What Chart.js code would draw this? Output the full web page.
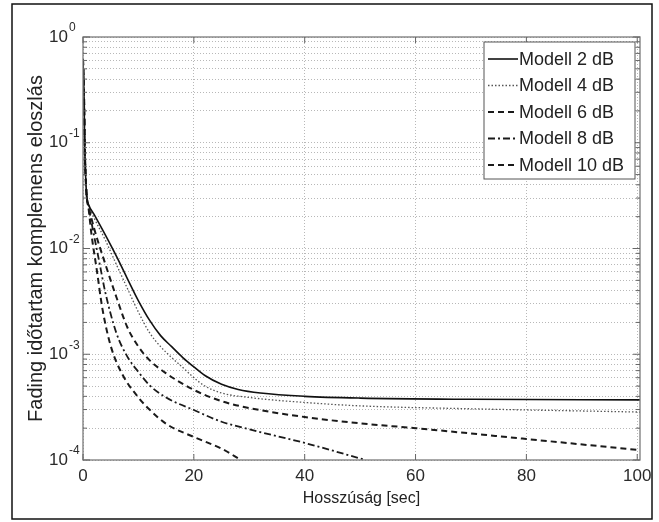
<!DOCTYPE html>
<html>
<head>
<meta charset="utf-8">
<script src="https://cdn.jsdelivr.net/npm/chart.js@4.4.0/dist/chart.umd.min.js"></script>
<style>
  html, body { margin: 0; padding: 0; background: #fff; }
  #wrap { width: 659px; height: 522px; }
</style>
</head>
<body>
<div id="wrap"><canvas id="chart" width="659" height="522"></canvas></div>
<script>
'use strict';

var seriesNames = ['Modell 2 dB', 'Modell 4 dB', 'Modell 6 dB', 'Modell 8 dB', 'Modell 10 dB'];

var x2dB = [0, 0.2, 0.3, 0.5, 0.7, 1, 2, 4, 6, 8, 10, 12, 14, 16, 18, 20, 22, 25, 28, 32, 40, 50, 70, 100.5];
var y2dB = [0.62, 0.25, 0.1, 0.045, 0.03, 0.026, 0.021, 0.0135, 0.0085, 0.0052, 0.0032, 0.0021, 0.0015, 0.00118, 0.00093, 0.00076, 0.00063, 0.00052, 0.000465, 0.00043, 0.0004, 0.000385, 0.000375, 0.00037];

var x4dB = [0, 0.2, 0.3, 0.5, 0.7, 1, 2, 4, 6, 8, 10, 12, 14, 16, 18, 20, 22, 25, 30, 40, 50, 70, 100.5];
var y4dB = [0.62, 0.25, 0.1, 0.045, 0.03, 0.026, 0.0195, 0.0121, 0.0071, 0.0042, 0.0025, 0.0016, 0.00118, 0.00093, 0.00075, 0.0006, 0.0005, 0.00043, 0.00039, 0.00035, 0.000325, 0.000305, 0.000284];

var x6dB = [0, 0.2, 0.3, 0.5, 0.7, 1, 2, 4, 6, 8, 10, 12, 15, 20, 25, 30, 40, 50, 60, 80, 100.5];
var y6dB = [0.62, 0.25, 0.1, 0.045, 0.03, 0.025, 0.0155, 0.0072, 0.0035, 0.0018, 0.00118, 0.00088, 0.00066, 0.00046, 0.00036, 0.00031, 0.000255, 0.000222, 0.0002, 0.000158, 0.000124];

var x8dB = [0, 0.2, 0.3, 0.5, 0.7, 1, 1.5, 3, 4, 6, 8, 10, 12, 15, 20, 25, 30, 40, 51];
var y8dB = [0.62, 0.25, 0.1, 0.045, 0.03, 0.025, 0.018, 0.0072, 0.0039, 0.0016, 0.00095, 0.00068, 0.00051, 0.00039, 0.000297, 0.00023, 0.000195, 0.000145, 0.0001];

var x10dB = [0, 0.2, 0.3, 0.5, 0.7, 1, 1.5, 2.5, 3.5, 5, 7, 10, 12, 15, 20, 25, 28.5];
var y10dB = [0.62, 0.25, 0.1, 0.045, 0.03, 0.024, 0.014, 0.0062, 0.0027, 0.0012, 0.00066, 0.00039, 0.0003, 0.00022, 0.000165, 0.000128, 0.0001];

var xTicks = [0, 20, 40, 60, 80, 100];
var yDecades = [1e-4, 1e-3, 1e-2, 1e-1, 1];
var yExponents = ['-4', '-3', '-2', '-1', '0'];

var FONT = "'Liberation Sans', Arial, Helvetica, sans-serif";

function points(xs, ys) {
  var out = [];
  for (var i = 0; i < xs.length; i++) {
    out.push({x: xs[i], y: ys[i]});
  }
  return out;
}

// decades plus 2..9 in between, like a matlab log grid
function logTicks() {
  var t = [];
  for (var i = 0; i < yDecades.length; i++) {
    t.push({value: yDecades[i]});
    if (i < yDecades.length - 1) {
      for (var k = 2; k <= 9; k++) {
        t.push({value: yDecades[i] * k});
      }
    }
  }
  return t;
}

var matlabPlugin = {
  id: 'matlab',
  beforeDraw: function (chart) {
    var ctx = chart.ctx;
    ctx.save();
    ctx.fillStyle = '#fff';
    ctx.fillRect(0, 0, chart.width, chart.height);
    ctx.strokeStyle = '#111';
    ctx.lineWidth = 1.5;
    ctx.strokeRect(12, 4, 640, 515);
    ctx.restore();
  },
  afterDatasetsDraw: function (chart) {
    var ctx = chart.ctx;
    var a = chart.chartArea;
    var xs = chart.scales.x;
    var ys = chart.scales.y;
    var i, p, len;
    ctx.save();

    // axis box
    ctx.strokeStyle = '#7a7a7a';
    ctx.lineWidth = 1.3;
    ctx.strokeRect(a.left, a.top, a.right - a.left, a.bottom - a.top);

    // inward tick marks
    ctx.lineWidth = 1;
    ctx.strokeStyle = '#666';
    ctx.beginPath();
    for (i = 0; i < ys.ticks.length; i++) {
      p = ys.getPixelForValue(ys.ticks[i].value);
      len = yDecades.indexOf(ys.ticks[i].value) >= 0 ? 7 : 4;
      ctx.moveTo(a.left, p); ctx.lineTo(a.left + len, p);
      ctx.moveTo(a.right, p); ctx.lineTo(a.right - len, p);
    }
    for (i = 0; i < xTicks.length; i++) {
      p = xs.getPixelForValue(xTicks[i]);
      ctx.moveTo(p, a.bottom); ctx.lineTo(p, a.bottom - 6);
      ctx.moveTo(p, a.top); ctx.lineTo(p, a.top + 6);
    }
    ctx.stroke();

    // y tick labels 10^n
    ctx.fillStyle = '#2a2a2a';
    for (i = 0; i < yDecades.length; i++) {
      p = ys.getPixelForValue(yDecades[i]);
      ctx.font = '17px ' + FONT;
      ctx.textAlign = 'right';
      ctx.textBaseline = 'middle';
      ctx.fillText('10', 68, p);
      ctx.font = '12px ' + FONT;
      ctx.textAlign = 'left';
      ctx.fillText(yExponents[i], 69, p - 9);
    }

    // legend box
    var lx = 484, ly = 42, lw = 151, lh = 137;
    ctx.fillStyle = '#fff';
    ctx.fillRect(lx, ly, lw, lh);
    ctx.strokeStyle = '#555';
    ctx.lineWidth = 1;
    ctx.strokeRect(lx, ly, lw, lh);
    var ds = chart.data.datasets;
    for (i = 0; i < ds.length; i++) {
      var ry = 59 + i * 26.5;
      ctx.save();
      ctx.strokeStyle = ds[i].borderColor;
      ctx.lineWidth = ds[i].borderWidth;
      ctx.setLineDash(ds[i].borderDash || []);
      ctx.beginPath();
      ctx.moveTo(488, ry);
      ctx.lineTo(518, ry);
      ctx.stroke();
      ctx.restore();
      ctx.fillStyle = '#222';
      ctx.font = '18px ' + FONT;
      ctx.textAlign = 'left';
      ctx.textBaseline = 'middle';
      ctx.fillText(ds[i].label, 519, ry + 1);
    }
    ctx.restore();
  }
};

var ctx = document.getElementById('chart').getContext('2d');

new Chart(ctx, {
  type: 'line',
  data: {
    datasets: [
      {label: seriesNames[0], data: points(x2dB, y2dB), borderColor: '#111', borderWidth: 1.6, borderDash: []},
      {label: seriesNames[1], data: points(x4dB, y4dB), borderColor: '#555', borderWidth: 1.3, borderDash: [1.5, 2]},
      {label: seriesNames[2], data: points(x6dB, y6dB), borderColor: '#1a1a1a', borderWidth: 2, borderDash: [6, 4]},
      {label: seriesNames[3], data: points(x8dB, y8dB), borderColor: '#1a1a1a', borderWidth: 1.8, borderDash: [7, 3, 2, 3]},
      {label: seriesNames[4], data: points(x10dB, y10dB), borderColor: '#1a1a1a', borderWidth: 2, borderDash: [6, 4]}
    ]
  },
  options: {
    responsive: false,
    animation: false,
    devicePixelRatio: 1,
    layout: {padding: {left: 13, top: 37, right: 19, bottom: 0}},
    elements: {
      point: {radius: 0},
      line: {cubicInterpolationMode: 'monotone', fill: false}
    },
    plugins: {
      legend: {display: false},
      tooltip: {enabled: false}
    },
    scales: {
      x: {
        type: 'linear',
        min: 0,
        max: 100.5,
        afterBuildTicks: function (s) {
          s.ticks = xTicks.map(function (v) { return {value: v}; });
        },
        afterFit: function (s) { s.height = 62; },
        grid: {color: '#b8b8b8', lineWidth: 1, drawTicks: false},
        border: {display: false, dash: [1, 2]},
        ticks: {color: '#2a2a2a', padding: 6, font: {family: FONT, size: 17}, maxRotation: 0, autoSkip: false},
        title: {display: true, text: 'Hosszúság [sec]', color: '#222', font: {family: FONT, size: 16}, padding: {top: 0, bottom: 14}}
      },
      y: {
        type: 'logarithmic',
        min: 1e-4,
        max: 1,
        afterBuildTicks: function (s) { s.ticks = logTicks(); },
        afterFit: function (s) { s.width = 70; },
        grid: {color: '#b8b8b8', lineWidth: 1, drawTicks: false},
        border: {display: false, dash: [1, 2]},
        ticks: {display: false},
        title: {display: true, text: 'Fading időtartam komplemens eloszlás', color: '#222', font: {family: FONT, size: 20}, padding: {top: 11, bottom: 0}}
      }
    }
  },
  plugins: [matlabPlugin]
});
</script>
</body>
</html>
